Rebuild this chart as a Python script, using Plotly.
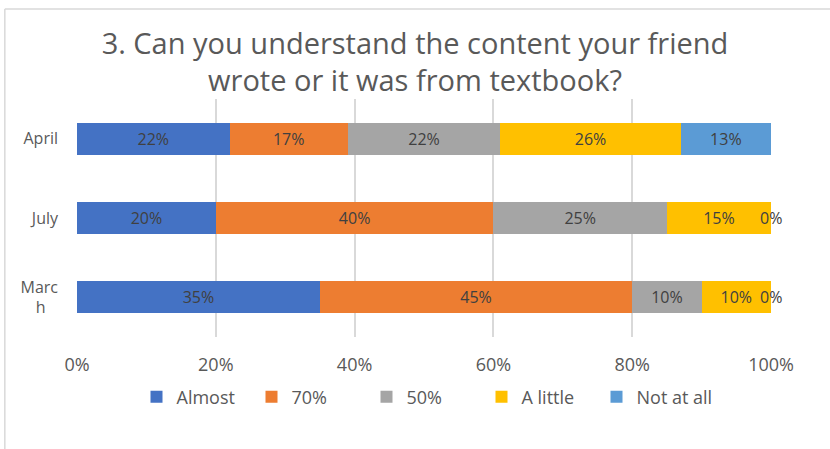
import plotly.graph_objects as go

# Survey responses per month (percent of students)
months = ["Marc<br>h\u00a0\u00a0\u00a0", "July", "April"]
series_names = ["Almost", "70%", "50%", "A little", "Not at all"]
almost = [35, 20, 22]
pct70 = [45, 40, 17]
pct50 = [10, 25, 22]
a_little = [10, 15, 26]
not_at_all = [0, 0, 13]
tick_vals = [0, 20, 40, 60, 80, 100]
tick_text = ["0%", "20%", "40%", "60%", "80%", "100%"]

series_values = [almost, pct70, pct50, a_little, not_at_all]
colors = ["#4472C4", "#ED7D31", "#A5A5A5", "#FFC000", "#5B9BD5"]

font_family = "Open Sans, Liberation Sans, sans-serif"
label_color = "#404040"

fig = go.Figure()
running = [0, 0, 0]
annotations = []
for name, vals, col in zip(series_names, series_values, colors):
    fig.add_trace(go.Bar(
        y=months, x=vals, name=name, orientation="h",
        marker=dict(color=col, line=dict(width=0)),
        text=[f"{v}%" if v else "" for v in vals],
        textposition="inside",
        insidetextanchor="middle",
        textfont=dict(family=font_family, size=16, color=label_color),
        cliponaxis=False,
        hoverinfo="skip",
    ))
    # zero-width segments still get their label, centred on the segment position
    for i, v in enumerate(vals):
        if v == 0:
            annotations.append(dict(
                x=running[i] + v, y=months[i], xref="x", yref="y",
                text=f"{v}%", showarrow=False, xanchor="center", yanchor="middle",
                font=dict(family=font_family, size=16, color=label_color),
            ))
        running[i] += v

fig.update_layout(
    barmode="stack",
    bargap=0.6,
    width=830, height=449,
    margin=dict(l=77, r=59, t=99, b=112),
    paper_bgcolor="white", plot_bgcolor="white",
    uniformtext=dict(minsize=8, mode="show"),
    annotations=annotations,
    title=dict(
        text="3. Can you understand the content your friend<br>wrote or it was from textbook?",
        x=0.5, xanchor="center", yref="container", y=1 - 53.5 / 449, yanchor="middle",
        font=dict(family=font_family, size=29, color="#595959"),
    ),
    xaxis=dict(
        range=[0, 100], tickvals=tick_vals, ticktext=tick_text,
        showgrid=True, gridcolor="#D9D9D9", gridwidth=1.5,
        zeroline=False, showline=False, ticks="",
        ticklabelstandoff=15,
        tickfont=dict(family=font_family, size=18, color="#595959"),
    ),
    yaxis=dict(
        showgrid=False, zeroline=False, showline=False, ticks="",
        ticklabelstandoff=18,
        tickfont=dict(family=font_family, size=16, color="#595959"),
    ),
    legend=dict(
        orientation="h", x=0.5, xanchor="center", y=-0.175, yanchor="top",
        font=dict(family=font_family, size=18, color="#595959"),
        traceorder="normal", itemwidth=30,
        entrywidth=70, entrywidthmode="pixels",
    ),
    showlegend=True,
)

# light frame along the top and left edges
fig.add_shape(type="line", xref="paper", yref="paper",
              x0=-0.104, x1=1.1, y0=1.378, y1=1.378,
              line=dict(color="#D9D9D9", width=1.5))
fig.add_shape(type="line", xref="paper", yref="paper",
              x0=-0.104, x1=-0.104, y0=-0.48, y1=1.378,
              line=dict(color="#D9D9D9", width=1.5))

fig.write_html("out.html")
